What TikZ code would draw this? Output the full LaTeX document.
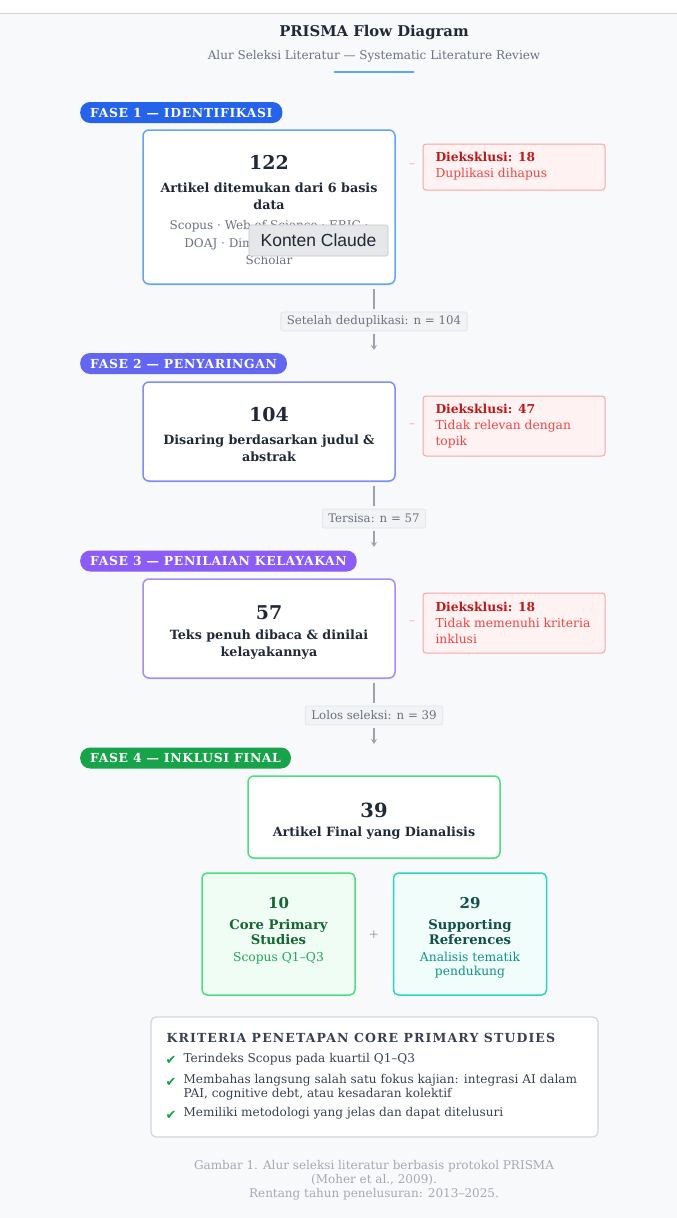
\documentclass[tikz,border=0pt]{standalone}
\usepackage{fontspec}
\setmainfont{DejaVu Serif}
\newfontfamily\uisans{Liberation Sans}
\newfontfamily\symfont{DejaVu Sans}
\usepackage{tikz}
\usetikzlibrary{arrows.meta,shadows}

\definecolor{pagebg}{HTML}{F8F9FB}
\definecolor{ink}{HTML}{1F2937}
\definecolor{muted}{HTML}{6B7280}
\definecolor{faint}{HTML}{9CA3AF}
\definecolor{captionink}{HTML}{A3A9B4}
\definecolor{faseA}{HTML}{2563EB}
\definecolor{faseB}{HTML}{6366F1}
\definecolor{faseC}{HTML}{8B5CF6}
\definecolor{faseD}{HTML}{16A34A}
\definecolor{edgeA}{HTML}{60A5FA}
\definecolor{edgeB}{HTML}{818CF8}
\definecolor{edgeC}{HTML}{A78BFA}
\definecolor{edgeD}{HTML}{4ADE80}
\definecolor{exfill}{HTML}{FEF2F2}
\definecolor{exline}{HTML}{FCA5A5}
\definecolor{exhead}{HTML}{B91C1C}
\definecolor{extext}{HTML}{EF4444}
\definecolor{chipfill}{HTML}{F1F3F5}
\definecolor{chipline}{HTML}{E2E5E9}
\definecolor{corefill}{HTML}{F0FDF4}
\definecolor{coreink}{HTML}{166534}
\definecolor{coresub}{HTML}{22A559}
\definecolor{supfill}{HTML}{F0FDFA}
\definecolor{supline}{HTML}{2DD4BF}
\definecolor{supink}{HTML}{134E4A}
\definecolor{supsub}{HTML}{0D9488}
\definecolor{critline}{HTML}{D1D5DB}
\definecolor{critink}{HTML}{374151}
\definecolor{tipfill}{HTML}{E6E7E8}
\definecolor{tipline}{HTML}{C4C6C9}

\begin{document}
\begin{tikzpicture}[x=1pt,y=-1pt]
		\useasboundingbox (0,0) rectangle (677,1218);
		\fill[pagebg] (0,13) rectangle (677,1218);
		\draw[critline] (0,13) -- (677,13);

		% heading
		\node[text=ink, font=\fontsize{14.8}{17}\selectfont\bfseries] (title) at (374,33) {PRISMA Flow Diagram};
		\node[text=muted, font=\fontsize{12}{14}\selectfont] (subtitle) at (374,56) {Alur Seleksi Literatur — Systematic Literature Review};
		\draw[edgeA, line width=2pt] (334,72) -- (414,72);

		% phase pills
		\begin{scope}[every node/.style={anchor=west, rounded corners=10pt, inner xsep=10pt, minimum height=21pt,
		              text=white, font=\fontsize{12.4}{14}\selectfont\bfseries\addfontfeature{LetterSpace=5}}]
		    \node[fill=faseA] (fase1) at (80,112.5) {FASE 1 — IDENTIFIKASI};
		    \node[fill=faseB] (fase2) at (80,363.5) {FASE 2 — PENYARINGAN};
		    \node[fill=faseC] (fase3) at (80,561) {FASE 3 — PENILAIAN KELAYAKAN};
		    \node[fill=faseD] (fase4) at (80,758) {FASE 4 — INKLUSI FINAL};
		\end{scope}

		% main boxes
		\begin{scope}[every node/.style={fill=white, line width=1.5pt, rounded corners=6pt, minimum width=252pt,
		              drop shadow={opacity=0.07, shadow xshift=0pt, shadow yshift=-2pt}}]
		    \node[draw=edgeA, minimum height=154pt] (box1) at (269,207) {};
		    \node[draw=edgeB, minimum height=99pt] (box2) at (269,431.5) {};
		    \node[draw=edgeC, minimum height=99pt] (box3) at (269,628.5) {};
		    \node[draw=edgeD, minimum height=82pt] (box4) at (374,817) {};
		\end{scope}

		\begin{scope}[every node/.style={text=ink, align=center, font=\fontsize{12.7}{17}\selectfont\bfseries}]
		    \node[font=\fontsize{19}{22}\selectfont\bfseries] (num1) at (269,162) {122};
		    \node (txt1) at (269,196) {Artikel ditemukan dari 6 basis\\data};
		    \node[text=muted, font=\fontsize{12}{17.5}\selectfont] (src1) at (269,243)
		        {Scopus · Web of Science · ERIC ·\\DOAJ · Dimensions · Google\\Scholar};
		    \node[font=\fontsize{19}{22}\selectfont\bfseries] (num2) at (269,415) {104};
		    \node (txt2) at (269,448.5) {Disaring berdasarkan judul \&\\abstrak};
		    \node[font=\fontsize{19}{22}\selectfont\bfseries] (num3) at (269,613) {57};
		    \node (txt3) at (269,644.5) {Teks penuh dibaca \& dinilai\\kelayakannya};
		    \node[font=\fontsize{19.5}{22}\selectfont\bfseries] (num4) at (374,810) {39};
		    \node (txt4) at (374,833) {Artikel Final yang Dianalisis};
		\end{scope}

		\node[fill=tipfill, draw=tipline, line width=0.6pt, rounded corners=1.5pt, minimum width=139pt,
		      minimum height=31pt, text=ink, font=\uisans\fontsize{17.5}{20}\selectfont] (tip) at (318.5,240.5) {Konten Claude};

		% exclusions
		\begin{scope}[every node/.style={draw=exline, fill=exfill, line width=1pt, rounded corners=3pt, minimum width=182pt}]
		    \node[minimum height=46pt] (ex1) at (514,167) {};
		    \node[minimum height=60pt] (ex2) at (514,426) {};
		    \node[minimum height=60pt] (ex3) at (514,623) {};
		\end{scope}
		\begin{scope}[every node/.style={anchor=west, align=left, text=extext, font=\fontsize{12.3}{16}\selectfont}]
		    \node (exl1) at (432,166.5) {\textcolor{exhead}{\bfseries Dieksklusi: 18}\\Duplikasi dihapus};
		    \node (exl2) at (432,426) {\textcolor{exhead}{\bfseries Dieksklusi: 47}\\Tidak relevan dengan\\topik};
		    \node (exl3) at (432,623) {\textcolor{exhead}{\bfseries Dieksklusi: 18}\\Tidak memenuhi kriteria\\inklusi};
		\end{scope}
		\begin{scope}[every node/.style={text=exline, font=\fontsize{12}{13}\selectfont}]
		    \node (dash1) at (412,166) {–};
		    \node (dash2) at (412,426) {–};
		    \node (dash3) at (412,623) {–};
		\end{scope}

		% counts between phases
		\begin{scope}[every node/.style={fill=chipfill, draw=chipline, line width=0.8pt, rounded corners=2pt,
		              text=muted, font=\fontsize{11.8}{13}\selectfont, minimum height=19pt, inner xsep=6pt}]
		    \node (chip1) at (374,321.5) {Setelah deduplikasi: n = 104};
		    \node (chip2) at (374,518.5) {Tersisa: n = 57};
		    \node (chip3) at (374,715.5) {Lolos seleksi: n = 39};
		\end{scope}
		\coordinate (in2) at (374,350);
		\coordinate (in3) at (374,547);
		\coordinate (in4) at (374,744);

		\begin{scope}[>={Stealth[length=5pt,width=6pt]},
		              every edge/.style={draw=faint, line width=1.2pt}]
		    \path (chip1.north |- box1.south) edge[shorten <=4pt, shorten >=3pt] (chip1.north);
		    \path (chip1.south) edge[->, shorten <=3pt] (in2);
		    \path (chip2.north |- box2.south) edge[shorten <=4pt, shorten >=3pt] (chip2.north);
		    \path (chip2.south) edge[->, shorten <=3pt] (in3);
		    \path (chip3.north |- box3.south) edge[shorten <=4pt, shorten >=3pt] (chip3.north);
		    \path (chip3.south) edge[->, shorten <=3pt] (in4);
		\end{scope}

		% final split
		\begin{scope}[every node/.style={line width=1.5pt, rounded corners=5pt, minimum width=153pt, minimum height=122pt}]
		    \node[draw=edgeD, fill=corefill] (core) at (278.5,934) {};
		    \node[draw=supline, fill=supfill] (supp) at (470,934) {};
		\end{scope}
		\begin{scope}[every node/.style={align=center, font=\fontsize{13.2}{15}\selectfont\bfseries}]
		    \node[text=coreink, font=\fontsize{15}{17}\selectfont\bfseries] (coreNum) at (278.5,903) {10};
		    \node[text=coreink] (coreTxt) at (278.5,932.5) {Core Primary\\Studies};
		    \node[text=coresub, font=\fontsize{12.3}{14}\selectfont] (coreSub) at (278.5,958) {Scopus Q1–Q3};
		    \node[text=supink, font=\fontsize{15}{17}\selectfont\bfseries] (suppNum) at (470,903) {29};
		    \node[text=supink] (suppTxt) at (470,932.5) {Supporting\\References};
		    \node[text=supsub, font=\fontsize{12.3}{14}\selectfont] (suppSub) at (470,965) {Analisis tematik\\pendukung};
		    \node[text=faint, font=\fontsize{12}{14}\selectfont] (plus) at (374,935) {+};
		\end{scope}

		% criteria
		\node[draw=critline, fill=white, line width=1.2pt, rounded corners=5pt, minimum width=447pt,
		      minimum height=120pt] (crit) at (374.5,1077) {};
		\node[anchor=west, text=critink, font=\fontsize{12.5}{14}\selectfont\bfseries\addfontfeature{LetterSpace=9}]
		    (critHead) at (163,1038) {KRITERIA PENETAPAN CORE PRIMARY STUDIES};
		\begin{scope}[every node/.style={text=faseD, font=\symfont\fontsize{13}{14}\selectfont}]
		    \node (chk1) at (171,1060) {✔};
		    \node (chk2) at (171,1082) {✔};
		    \node (chk3) at (171,1115) {✔};
		\end{scope}
		\begin{scope}[every node/.style={anchor=west, align=left, text=critink, font=\fontsize{12.1}{14}\selectfont}]
		    \node (item1) at (180,1059) {Terindeks Scopus pada kuartil Q1–Q3};
		    \node (item2) at (180,1087) {Membahas langsung salah satu fokus kajian: integrasi AI dalam\\PAI, cognitive debt, atau kesadaran kolektif};
		    \node (item3) at (180,1113) {Memiliki metodologi yang jelas dan dapat ditelusuri};
		\end{scope}

		\node[align=center, text=captionink, font=\fontsize{12}{14}\selectfont] (caption) at (374,1180)
		    {Gambar 1. Alur seleksi literatur berbasis protokol PRISMA\\(Moher et al., 2009).\\Rentang tahun penelusuran: 2013–2025.};
\end{tikzpicture}
\end{document}
